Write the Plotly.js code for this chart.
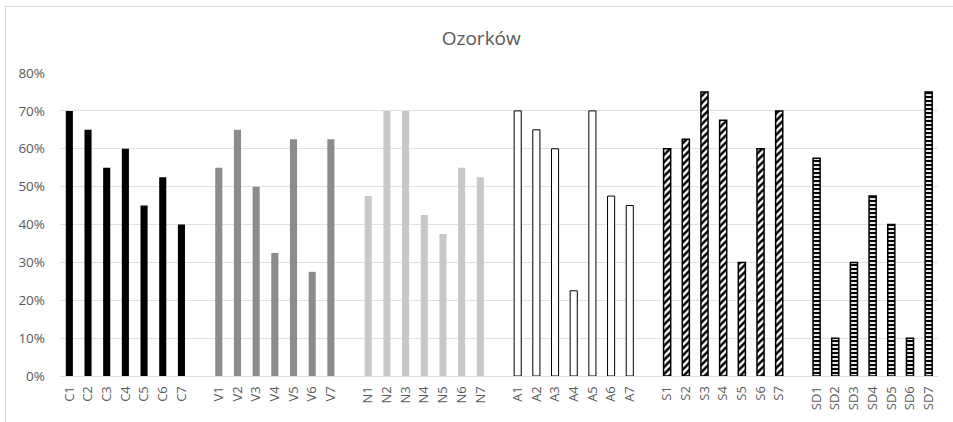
<!DOCTYPE html>
<html>
<head>
<meta charset="utf-8">
<script src="https://cdn.plot.ly/plotly-3.0.1.min.js"></script>
<style>
html,body{margin:0;padding:0;background:#fff;}
#wrap{position:relative;width:953px;height:422px;overflow:hidden;}
#chart{position:absolute;left:0;top:0;width:953px;height:422px;}
#border{position:absolute;left:5px;top:6px;width:960px;height:430px;border:1px solid #d9d9d9;pointer-events:none;}
</style>
</head>
<body>
<div id="wrap"><div id="chart"></div><div id="border"></div></div>
<script>
const catC = ["C1","C2","C3","C4","C5","C6","C7"];
const valC = [0.70,0.65,0.55,0.60,0.45,0.525,0.40];
const catV = ["V1","V2","V3","V4","V5","V6","V7"];
const valV = [0.55,0.65,0.50,0.325,0.625,0.275,0.625];
const catN = ["N1","N2","N3","N4","N5","N6","N7"];
const valN = [0.475,0.70,0.70,0.425,0.375,0.55,0.525];
const catA = ["A1","A2","A3","A4","A5","A6","A7"];
const valA = [0.70,0.65,0.60,0.225,0.70,0.475,0.45];
const catS = ["S1","S2","S3","S4","S5","S6","S7"];
const valS = [0.60,0.625,0.75,0.675,0.30,0.60,0.70];
const catSD = ["SD1","SD2","SD3","SD4","SD5","SD6","SD7"];
const valSD = [0.575,0.10,0.30,0.475,0.40,0.10,0.75];
const gaps = [" ","  ","   ","    ","     "];

const order = [].concat(catC,[gaps[0]],catV,[gaps[1]],catN,[gaps[2]],catA,[gaps[3]],catS,[gaps[4]],catSD);
const W = 0.38;
const traces = [
  {x:catC,y:valC,type:'bar',width:W,marker:{color:'#000000',line:{width:0}}},
  {x:catV,y:valV,type:'bar',width:W,marker:{color:'#8c8c8c',line:{width:0}}},
  {x:catN,y:valN,type:'bar',width:W,marker:{color:'#c8c8c8',line:{width:0}}},
  {x:catA,y:valA,type:'bar',width:W,marker:{color:'#ffffff',line:{width:1,color:'#000000'}}},
  {x:catS,y:valS,type:'bar',width:W,marker:{color:'#ffffff',line:{width:1.5,color:'#000000'},
    pattern:{shape:'/',fgcolor:'#000000',bgcolor:'#ffffff',size:5,solidity:0.5}}},
  {x:catSD,y:valSD,type:'bar',width:W,marker:{color:'#000000',line:{width:1.5,color:'#000000'},
    pattern:{shape:'-',fgcolor:'#ffffff',bgcolor:'#000000',size:4,solidity:0.45}}}
];
traces.forEach(t=>{t.hoverinfo='skip';t.showlegend=false;});

const layout = {
  width:953,height:422,
  margin:{l:60,r:15,t:73,b:46},
  paper_bgcolor:'#ffffff',plot_bgcolor:'#ffffff',
  barmode:'overlay',
  showlegend:false,
  title:{text:'Ozorków',x:0.505,xanchor:'center',y:0.91,yanchor:'middle',
    font:{family:'Open Sans, sans-serif',size:19,color:'#595959'}},
  font:{family:'Open Sans, sans-serif',color:'#595959'},
  xaxis:{type:'category',categoryorder:'array',categoryarray:order,
    range:[-0.5,order.length-0.5],
    tickangle:-90,tickfont:{size:13,color:'#595959'},ticklabelstandoff:4,
    showgrid:false,showline:true,linecolor:'#d9d9d9',linewidth:1,ticks:'',
    zeroline:false,fixedrange:true},
  yaxis:{range:[0,0.8],tickvals:[0,0.1,0.2,0.3,0.4,0.5,0.6,0.7,0.8],tickformat:'.0%',
    tickfont:{size:13.5,color:'#595959'},gridcolor:'#e0e0e0',gridwidth:1,
    zeroline:false,showline:false,ticks:'',ticklabelstandoff:14,fixedrange:true}
};
Plotly.newPlot('chart',traces,layout,{displayModeBar:false,staticPlot:true});
</script>
</body>
</html>
